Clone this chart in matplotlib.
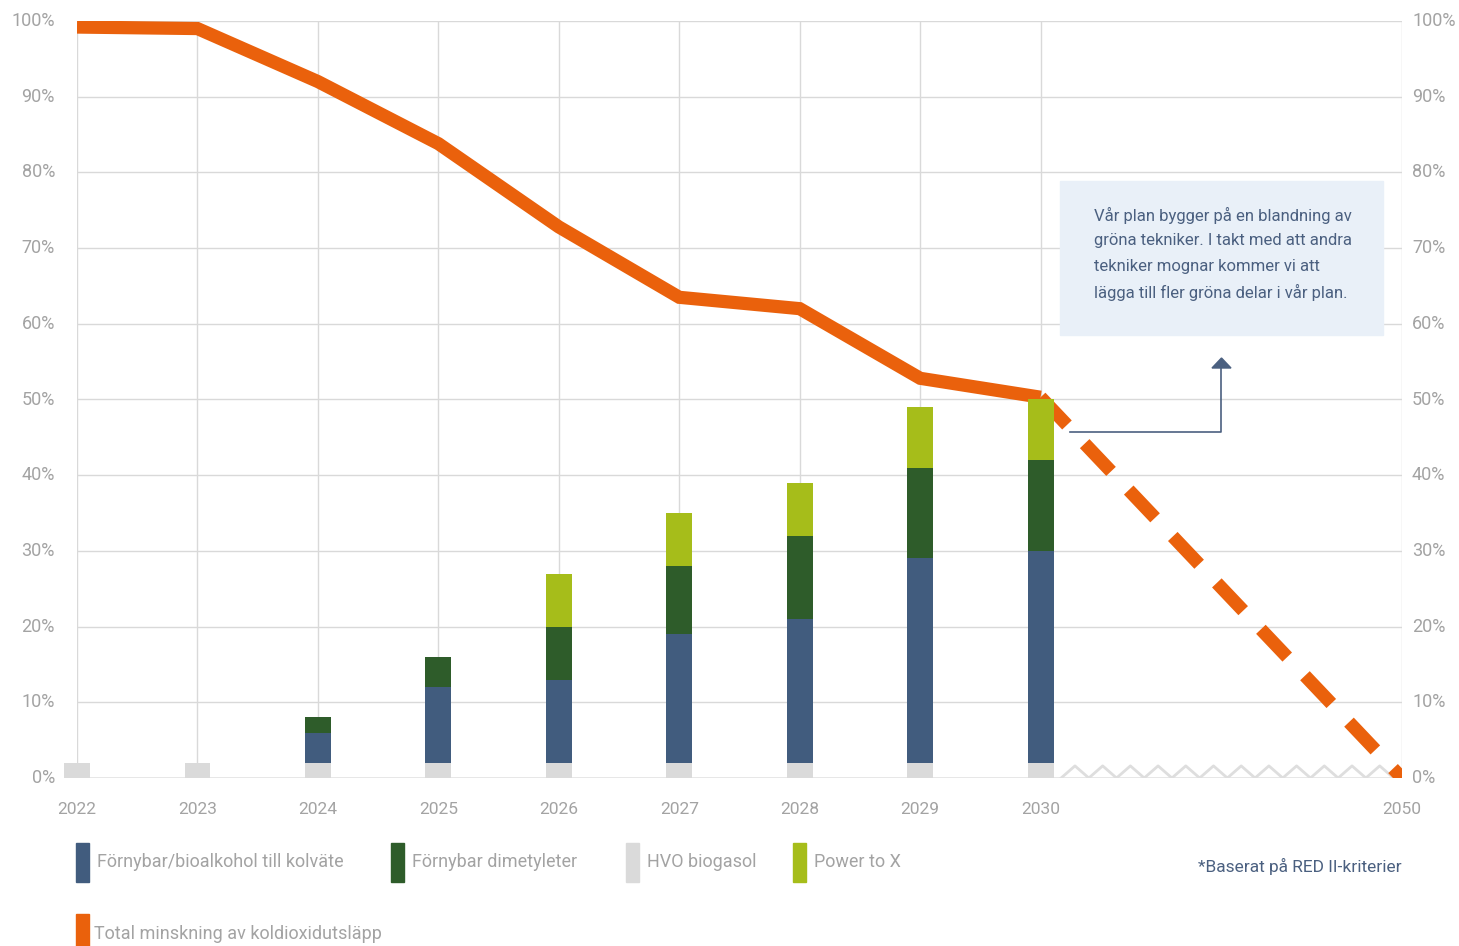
import numpy as np
import matplotlib.pyplot as plt
from matplotlib.patches import Rectangle

years = ['2022', '2023', '2024', '2025', '2026', '2027', '2028', '2029', '2030', '2050']
xpos = [0, 1, 2, 3, 4, 5, 6, 7, 8, 11]

# staplar (procent), 2022-2030
hvo = [2, 2, 2, 2, 2, 2, 2, 2, 2]
bioalkohol = [0, 0, 4, 10, 11, 17, 19, 27, 28]
dimetyleter = [0, 0, 2, 4, 7, 9, 11, 12, 12]
power_x = [0, 0, 0, 0, 7, 7, 7, 8, 8]

# total minskning
co2 = [99.2, 99.0, 92.0, 83.8, 72.8, 63.5, 62.0, 52.8, 50.3]
co2_2050 = 0

legend_labels = ['Förnybar/bioalkohol till kolväte', 'Förnybar dimetyleter', 'HVO biogasol', 'Power to X']
line_label = 'Total minskning av koldioxidutsläpp'

c_blue = '#415c7e'
c_green = '#2e5c2a'
c_grey = '#dadada'
c_lime = '#a6bd1a'
c_orange = '#ea610c'
c_text = '#a3a3a3'
c_note = '#4b6080'

plt.rcParams['font.family'] = ['Roboto', 'DejaVu Sans']

W, H = 1459, 946
fig = plt.figure(figsize=(W / 100, H / 100), dpi=100)
ax = fig.add_axes([77 / W, 1 - 778 / H, (1402 - 77) / W, (778 - 21) / H])
ax.set_xlim(0, 11)
ax.set_ylim(0, 100)

# rutnät
for y in range(10, 101, 10):
    ax.axhline(y, color='#d9d9d9', lw=1, zorder=0)
for x in xpos[:9]:
    ax.axvline(x, color='#d9d9d9', lw=1, zorder=0)
ax.axvline(11, color='#d9d9d9', lw=1, zorder=0)
ax.axhline(0, color='#e3e3e3', lw=1.2, zorder=0)

# sicksack mellan 2030 och 2050
zx = np.linspace(8.17, 10.93, 25)
zy = np.where(np.arange(25) % 2 == 0, 0.0, 1.6)
ax.plot(zx, zy, color='#dedede', lw=2, zorder=1)

for s in ax.spines.values():
    s.set_visible(False)
ax.set_xticks([])
ax.set_yticks([])

# linje
bx = xpos[:9]
ax.plot(bx, co2, color=c_orange, lw=9.5, solid_capstyle='butt', solid_joinstyle='miter', zorder=2)
ax.plot([bx[-1], xpos[-1]], [co2[-1], co2_2050], color=c_orange, lw=9.5,
        dashes=(2.9, 1.95), dash_capstyle='butt', zorder=2)

# staplar
w = 0.215
b1 = np.array(hvo)
b2 = b1 + np.array(bioalkohol)
b3 = b2 + np.array(dimetyleter)
for bars in [ax.bar(bx, hvo, w, color=c_grey, zorder=3),
             ax.bar(bx, bioalkohol, w, bottom=b1, color=c_blue, zorder=3),
             ax.bar(bx, dimetyleter, w, bottom=b2, color=c_green, zorder=3),
             ax.bar(bx, power_x, w, bottom=b3, color=c_lime, zorder=3)]:
    for r in bars:
        r.set_clip_on(False)

# axeletiketter
for y in range(0, 101, 10):
    yy = 1 - (778 - y * 7.57) / H
    fig.text(55 / W, yy, f'{y}%', ha='right', va='center', fontsize=13, color=c_text)
    fig.text(1412 / W, yy, f'{y}%', ha='left', va='center', fontsize=13, color=c_text)
for x, lab in zip(xpos, years):
    ax.text(x, -4.1, lab, ha='center', va='center', fontsize=12.5, color=c_text)

# informationsruta
fig.patches.append(Rectangle((1060 / W, 1 - 335 / H), 323 / W, 154 / H,
                             transform=fig.transFigure, color='#e9f0f8', zorder=0))
note = ['Vår plan bygger på en blandning av',
        'gröna tekniker. I takt med att andra',
        'tekniker mognar kommer vi att',
        'lägga till fler gröna delar i vår plan.']
for i, t in enumerate(note):
    fig.text(1094 / W, 1 - (215 + i * 25.7) / H, t, ha='left', va='center', fontsize=12, color=c_note)

# pil
fig.add_artist(plt.Line2D([1070 / W, 1221 / W, 1221 / W], [1 - 432 / H, 1 - 432 / H, 1 - 368 / H],
                          color=c_note, lw=1.2))
fig.patches.append(plt.Polygon([[1212 / W, 1 - 368 / H], [1231 / W, 1 - 368 / H], [1221.5 / W, 1 - 358 / H]],
                               closed=True, transform=fig.transFigure, color=c_note))

# förklaring
lx = [76, 391, 626, 793]
lc = [c_blue, c_green, c_grey, c_lime]
for x, c, lab in zip(lx, lc, legend_labels):
    fig.patches.append(Rectangle((x / W, 1 - 882 / H), 13 / W, 39 / H, transform=fig.transFigure, color=c))
    fig.text((x + 21) / W, 1 - 862 / H, lab, ha='left', va='center', fontsize=13, color=c_text)
fig.patches.append(Rectangle((76 / W, 0), 13 / W, 32 / H, transform=fig.transFigure, color=c_orange))
fig.text(94 / W, 1 - 934 / H, line_label, ha='left', va='center', fontsize=13, color=c_text)
fig.text(1402 / W, 1 - 866 / H, '*Baserat på RED II-kriterier', ha='right', va='center', fontsize=12.5, color=c_note)

fig.savefig('out.png', dpi=100)
